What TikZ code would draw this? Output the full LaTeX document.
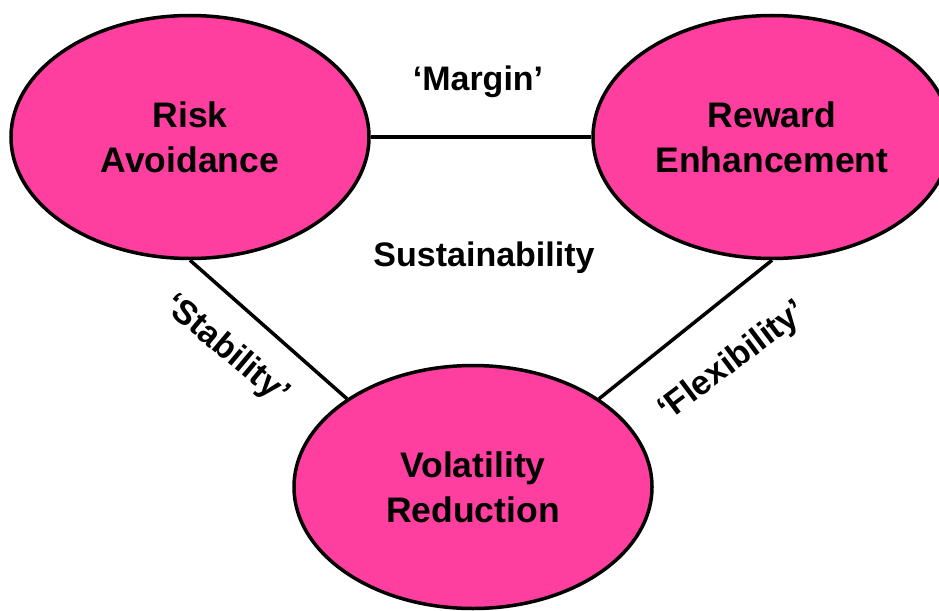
\documentclass[tikz,border=0pt]{standalone}
\usepackage{fontspec}
\setmainfont{Liberation Sans}
\usetikzlibrary{shapes.geometric}
\definecolor{pinkfill}{HTML}{FF3F9F}
\begin{document}
\begin{tikzpicture}[x=1pt,y=-1pt,
  blob/.style={ellipse,draw=black,line width=3.5pt,fill=pinkfill,
    minimum width=358pt,minimum height=243pt,align=center,
    font=\fontsize{35.5}{45}\selectfont\bfseries},
  lbl/.style={font=\fontsize{34}{40}\selectfont\bfseries,inner sep=0pt},
  link/.style={line width=3.5pt}]
\useasboundingbox (0,0) rectangle (939,610);
\node[blob] (risk) at (190,137) {Risk\\Avoidance};
\node[blob] (reward) at (772,137) {Reward\\Enhancement};
\node[blob] (vol) at (473,487) {Volatility\\Reduction};
\draw[link] (risk.east) -- (reward.west);
\draw[link] (risk.south) -- (vol.145);
\draw[link] (reward.south) -- (vol.35);
\node[lbl] (margin) at (478,82) {‘Margin’};
\node[lbl] (sust) at (484,258) {Sustainability};
\node[lbl,rotate=-40] (stab) at (226,350) {‘Stability’};
\node[lbl,rotate=37] (flex) at (733,362) {‘Flexibility’};
\end{tikzpicture}
\end{document}
